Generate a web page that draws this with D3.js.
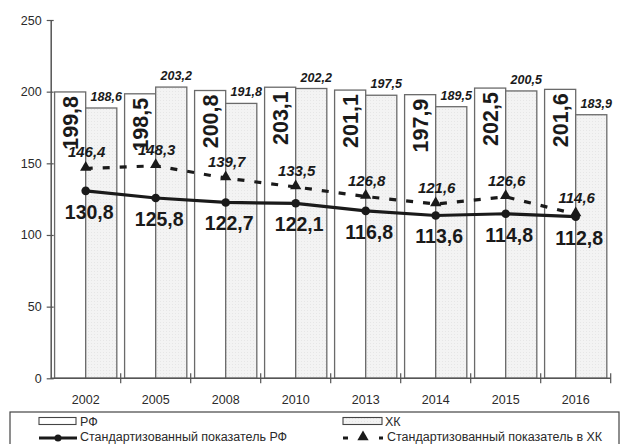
<!DOCTYPE html>
<html><head><meta charset="utf-8">
<script src="https://cdn.jsdelivr.net/npm/d3@7"></script>
<style>
html,body{margin:0;padding:0;background:#fff;}
svg{display:block;font-family:"Liberation Sans",Arial,sans-serif;}
</style></head>
<body>
<svg id="chart" width="625" height="444"></svg>
<script>
const years = ["2002","2005","2008","2010","2013","2014","2015","2016"];
const rfValues = [199.8,198.5,200.8,203.1,201.1,197.9,202.5,201.6];
const xkValues = [188.6,203.2,191.8,202.2,197.5,189.5,200.5,183.9];
const rfStd = [130.8,125.8,122.7,122.1,116.8,113.6,114.8,112.8];
const xkStd = [146.4,148.3,139.7,133.5,126.8,121.6,126.6,114.6];
const yTicks = [0,50,100,150,200,250];
const legendLabels = ["РФ","ХК","Стандартизованный показатель РФ","Стандартизованный показатель  в ХК"];

const fmt = v => v.toFixed(1).replace(".", ",");
const svg = d3.select("#chart");
const x = d3.scaleBand().domain(years).range([50.7, 610.7]).paddingInner(0).paddingOuter(0);
const y = d3.scaleLinear().domain([0,250]).range([378.3, 20]);
const inner = d3.scaleBand().domain(["rf","xk"]).range([0, x.bandwidth()]).paddingOuter(0.125).paddingInner(0);
const axisCol = "#555", txtCol = "#2a2a2a", barStroke = "#6a6a6a";

const defs = svg.append("defs");
const pat = defs.append("pattern").attr("id","dots").attr("width",3).attr("height",3).attr("patternUnits","userSpaceOnUse");
pat.append("rect").attr("width",3).attr("height",3).attr("fill","#f3f3f3");
pat.append("rect").attr("x",1).attr("y",1).attr("width",1).attr("height",1).attr("fill","#e6e6e6");

const g = svg.append("g");
years.forEach((yr,i)=>{
  const x0 = x(yr);
  g.append("rect").attr("x", x0+inner("rf")).attr("y", y(rfValues[i]))
    .attr("width", inner.bandwidth()).attr("height", y(0)-y(rfValues[i]))
    .attr("fill","#fff").attr("stroke",barStroke).attr("stroke-width",1.3);
  g.append("rect").attr("x", x0+inner("xk")).attr("y", y(xkValues[i]))
    .attr("width", inner.bandwidth()).attr("height", y(0)-y(xkValues[i]))
    .attr("fill","url(#dots)").attr("stroke",barStroke).attr("stroke-width",1.3);
});

const yAxis = d3.axisLeft(y).tickValues(yTicks).tickSizeInner(5).tickSizeOuter(0).tickPadding(6);
const ya = svg.append("g").attr("transform","translate(50.7,0)").call(yAxis);
ya.selectAll("line").attr("stroke",axisCol).attr("x2",-4).attr("x1",3).attr("stroke-width",1.2);
ya.select(".domain").attr("stroke",axisCol).attr("stroke-width",1.5);
ya.selectAll("text").attr("fill",txtCol).style("font-size","12.5px").attr("x",-9);

const xa = svg.append("g").attr("transform",`translate(0,${y(0)})`);
xa.append("line").attr("x1",50.7).attr("x2",610.7).attr("stroke",axisCol).attr("stroke-width",1.5);
const bounds = years.map(d=>x(d)).concat([x(years[years.length-1])+x.bandwidth()]).slice(1);
xa.selectAll("line.t").data(bounds).enter().append("line").attr("class","t")
  .attr("x1",d=>d).attr("x2",d=>d).attr("y1",-5).attr("y2",5).attr("stroke",axisCol).attr("stroke-width",1.2);
xa.selectAll("text").data(years).enter().append("text")
  .attr("x",d=>x(d)+x.bandwidth()/2).attr("y",26).attr("text-anchor","middle")
  .attr("fill",txtCol).style("font-size","12.5px").text(d=>d);

const cx = d => x(d)+x.bandwidth()/2;
const lineGen = d3.line().x((d,i)=>cx(years[i])).y(d=>y(d));
svg.append("path").attr("d", lineGen(xkStd)).attr("fill","none").attr("stroke","#1a1a1a")
  .attr("stroke-width",3.2).attr("stroke-dasharray","7,10");
svg.append("path").attr("d", lineGen(rfStd)).attr("fill","none").attr("stroke","#1a1a1a").attr("stroke-width",3.2);

const tri = d3.symbol().type(d3.symbolTriangle).size(55);
svg.selectAll("path.tri").data(xkStd).enter().append("path").attr("class","tri")
  .attr("d",tri).attr("transform",(d,i)=>`translate(${cx(years[i])},${y(d)-1})`).attr("fill","#1a1a1a");
svg.selectAll("circle.rfpt").data(rfStd).enter().append("circle").attr("class","rfpt")
  .attr("cx",(d,i)=>cx(years[i])).attr("cy",d=>y(d)).attr("r",4.3).attr("fill","#1a1a1a");

years.forEach((yr,i)=>{
  const bx = x(yr)+inner("rf")+inner.bandwidth()/2;
  svg.append("text").attr("transform",`translate(${bx+7.5},${y(rfValues[i])+4}) rotate(-90)`)
    .attr("text-anchor","end").attr("fill","#1a1a1a").style("font-size","21.5px").style("font-weight","bold")
    .text(fmt(rfValues[i]));
  const xx = x(yr)+inner("xk")+inner.bandwidth()/2;
  svg.append("text").attr("x",xx+5).attr("y",y(xkValues[i])-7).attr("text-anchor","middle")
    .attr("fill","#1a1a1a").style("font-size","12.5px").style("font-weight","bold").style("font-style","italic")
    .text(fmt(xkValues[i]));
  svg.append("text").attr("x",cx(yr)+1).attr("y",y(xkStd[i])-11).attr("text-anchor","middle")
    .attr("fill","#1a1a1a").style("font-size","15px").style("font-weight","bold").style("font-style","italic")
    .text(fmt(xkStd[i]));
  svg.append("text").attr("x",cx(yr)+3.5).attr("y",y(rfStd[i])+28).attr("text-anchor","middle")
    .attr("fill","#1a1a1a").style("font-size","19.5px").style("font-weight","bold")
    .text(fmt(rfStd[i]));
});

const lg = svg.append("g");
lg.append("rect").attr("x",10).attr("y",412).attr("width",609).attr("height",60)
  .attr("fill","#fff").attr("stroke","#444").attr("stroke-width",1.2);
lg.append("rect").attr("x",39).attr("y",417.5).attr("width",37).attr("height",7).attr("fill","#fff").attr("stroke","#444").attr("stroke-width",1.1);
lg.append("rect").attr("x",343).attr("y",417.5).attr("width",39).attr("height",7).attr("fill","url(#dots)").attr("stroke","#444").attr("stroke-width",1.1);
lg.append("text").attr("x",80).attr("y",426).text(legendLabels[0]);
lg.append("text").attr("x",385).attr("y",426).text(legendLabels[1]);
lg.append("line").attr("x1",39).attr("x2",77).attr("y1",438).attr("y2",438).attr("stroke","#1a1a1a").attr("stroke-width",3.2);
lg.append("circle").attr("cx",58).attr("cy",438).attr("r",3.5).attr("fill","#1a1a1a");
lg.append("line").attr("x1",343).attr("x2",383).attr("y1",438).attr("y2",438).attr("stroke","#1a1a1a").attr("stroke-width",3.2).attr("stroke-dasharray","5,13");
lg.append("path").attr("d",tri).attr("transform","translate(363,437)").attr("fill","#1a1a1a");
lg.append("text").attr("x",80).attr("y",441).text(legendLabels[2]);
lg.append("text").attr("x",387).attr("y",441).text(legendLabels[3]);
lg.selectAll("text").attr("fill",txtCol).style("font-size","12.5px");
</script>
</body></html>
